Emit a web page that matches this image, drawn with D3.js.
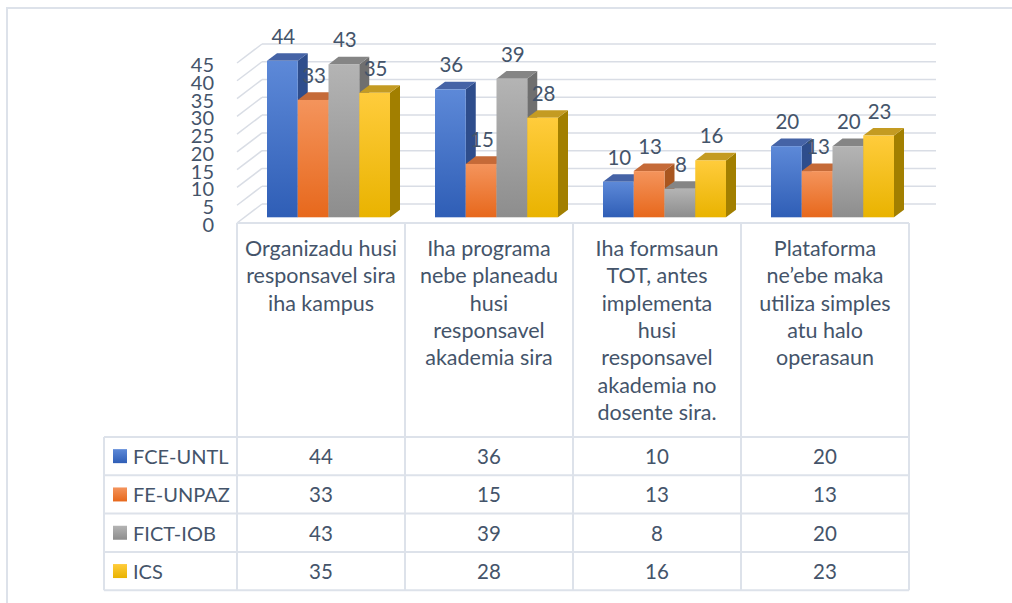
<!DOCTYPE html>
<html>
<head>
<meta charset="utf-8">
<script src="https://cdn.jsdelivr.net/npm/d3@7"></script>
<style>
  body { margin: 0; background: #fff; }
  svg text { font-family: Lato, "Open Sans", sans-serif; fill: #44546a; }
</style>
</head>
<body>
<svg class="chart" width="1012" height="603"></svg>
<script>
// chart data
var categories = [
  "Organizadu husi\nresponsavel sira\niha kampus",
  "Iha programa\nnebe planeadu\nhusi\nresponsavel\nakademia sira",
  "Iha formsaun\nTOT, antes\nimplementa\nhusi\nresponsavel\nakademia no\ndosente sira.",
  "Plataforma\nne’ebe maka\nutiliza simples\natu halo\noperasaun"
];
var seriesNames = ["FCE-UNTL", "FE-UNPAZ", "FICT-IOB", "ICS"];
var fceUntl = [44, 36, 10, 20];
var feUnpaz = [33, 15, 13, 13];
var fictIob = [43, 39, 8, 20];
var ics = [35, 28, 16, 23];
var yTicks = [0, 5, 10, 15, 20, 25, 30, 35, 40, 45];

var seriesValues = [fceUntl, feUnpaz, fictIob, ics];
var colors = [
  {light: "#5d89d8", dark: "#2f5eb6", side: "#2e4d8c", top: "#4563a6"},
  {light: "#f4945c", dark: "#e7681c", side: "#a9561f", top: "#c56a38"},
  {light: "#b4b4b4", dark: "#8d8d8d", side: "#6f6f6f", top: "#858585"},
  {light: "#ffcc3c", dark: "#e9b300", side: "#a27f00", top: "#c49b22"}
];

var svg = d3.select(".chart");

// 3d depth: back of the box is shifted right/up
var depthX = 25, depthY = -19;
var tableLeft = 104, plotLeft = 237, plotRight = 909;
var floorY = 223;

var x = d3.scaleBand().domain(d3.range(categories.length)).range([plotLeft, plotRight]);
var y = d3.scaleLinear().domain([0, 45]).range([floorY, floorY - 160]);
var xs = d3.scaleBand().domain(d3.range(seriesNames.length)).range([0, 123]);
var clusterPad = (x.bandwidth() - 123) / 2;

function pt(px, v, t) {
  return [px + depthX * t, y(v) + depthY * t];
}

// outer chart border
svg.append("rect")
  .attr("x", 7).attr("y", 8)
  .attr("width", 1020).attr("height", 620)
  .attr("fill", "none").attr("stroke", "#dde2ea").attr("stroke-width", 2);

var grid = svg.append("g")
  .attr("stroke", "#d9dde5").attr("stroke-width", 1.5).attr("fill", "none");

// back wall gridlines
grid.selectAll(".back").data(yTicks).enter().append("line")
  .attr("x1", function(d) { return pt(plotLeft, d, 1)[0]; })
  .attr("y1", function(d) { return pt(plotLeft, d, 1)[1]; })
  .attr("x2", function(d) { return pt(plotRight + 2, d, 1)[0]; })
  .attr("y2", function(d) { return pt(plotRight + 2, d, 1)[1]; });

// side wall gridlines
grid.selectAll(".side").data(yTicks).enter().append("line")
  .attr("x1", function(d) { return pt(plotLeft, d, 0)[0]; })
  .attr("y1", function(d) { return pt(plotLeft, d, 0)[1]; })
  .attr("x2", function(d) { return pt(plotLeft, d, 1)[0]; })
  .attr("y2", function(d) { return pt(plotLeft, d, 1)[1]; });

// y tick labels
svg.selectAll(".ytick").data(yTicks).enter().append("text")
  .attr("x", 214)
  .attr("y", function(d) { return y(d) + 1; })
  .attr("text-anchor", "end")
  .attr("dominant-baseline", "central")
  .style("font-size", "20px")
  .text(function(d) { return d; });

// gradients
var defs = svg.append("defs");
colors.forEach(function(c, i) {
  var g = defs.append("linearGradient").attr("id", "grad" + i)
    .attr("x1", 0).attr("y1", 0).attr("x2", 0).attr("y2", 1);
  g.append("stop").attr("offset", "0%").attr("stop-color", c.light);
  g.append("stop").attr("offset", "100%").attr("stop-color", c.dark);
});

// bars
var t0 = 0.3, t1 = 0.7;
var bars = svg.append("g");
categories.forEach(function(cat, ci) {
  seriesValues.forEach(function(vals, si) {
    var v = vals[ci];
    var xl = x(ci) + clusterPad + xs(si);
    var xr = xl + xs.bandwidth();
    var fl = pt(xl, 0, t0), fr = pt(xr, 0, t0);
    var tl = pt(xl, v, t0), tr = pt(xr, v, t0);
    var btl = pt(xl, v, t1), btr = pt(xr, v, t1), bbr = pt(xr, 0, t1);
    var g = bars.append("g");
    g.append("polygon")
      .attr("points", [fr, bbr, btr, tr].join(" "))
      .attr("fill", colors[si].side);
    g.append("polygon")
      .attr("points", [tl, btl, btr, tr].join(" "))
      .attr("fill", colors[si].top);
    g.append("rect")
      .attr("x", tl[0]).attr("y", tl[1])
      .attr("width", fr[0] - fl[0]).attr("height", fl[1] - tl[1])
      .attr("fill", "url(#grad" + si + ")");
    g.append("text")
      .attr("x", (tl[0] + tr[0]) / 2 + 1)
      .attr("y", tl[1] - 25)
      .attr("text-anchor", "middle")
      .attr("dominant-baseline", "central")
      .style("font-size", "20.5px")
      .text(v);
  });
});

// data table
var rowTop = 437, rowH = 38.3;
var tbl = svg.append("g")
  .attr("stroke", "#dde2ea").attr("stroke-width", 2).attr("fill", "none");
tbl.append("line").attr("x1", plotLeft).attr("x2", plotRight).attr("y1", floorY).attr("y2", floorY);
d3.range(seriesNames.length + 1).forEach(function(r) {
  tbl.append("line")
    .attr("x1", tableLeft).attr("x2", plotRight)
    .attr("y1", rowTop + r * rowH).attr("y2", rowTop + r * rowH);
});
d3.range(categories.length + 1).forEach(function(c) {
  var xx = c < categories.length ? x(c) : plotRight;
  tbl.append("line")
    .attr("x1", xx).attr("x2", xx)
    .attr("y1", floorY).attr("y2", rowTop + seriesNames.length * rowH);
});
tbl.append("line")
  .attr("x1", tableLeft).attr("x2", tableLeft)
  .attr("y1", rowTop).attr("y2", rowTop + seriesNames.length * rowH);

// category labels
categories.forEach(function(cat, ci) {
  var t = svg.append("text")
    .attr("text-anchor", "middle")
    .style("font-size", "21.5px");
  cat.split("\n").forEach(function(line, li) {
    t.append("tspan")
      .attr("x", x(ci) + x.bandwidth() / 2)
      .attr("y", 248 + li * 27.3)
      .attr("dominant-baseline", "central")
      .text(line);
  });
});

// legend + values
seriesNames.forEach(function(name, si) {
  var cy = rowTop + si * rowH + rowH / 2;
  svg.append("rect")
    .attr("x", 113).attr("y", cy - 7)
    .attr("width", 14).attr("height", 14)
    .attr("fill", "url(#grad" + si + ")");
  svg.append("text")
    .attr("x", 133).attr("y", cy)
    .attr("dominant-baseline", "central")
    .style("font-size", "20px")
    .text(name);
  seriesValues[si].forEach(function(v, ci) {
    svg.append("text")
      .attr("x", x(ci) + x.bandwidth() / 2)
      .attr("y", cy)
      .attr("text-anchor", "middle")
      .attr("dominant-baseline", "central")
      .style("font-size", "20.5px")
      .text(v);
  });
});
</script>
</body>
</html>
